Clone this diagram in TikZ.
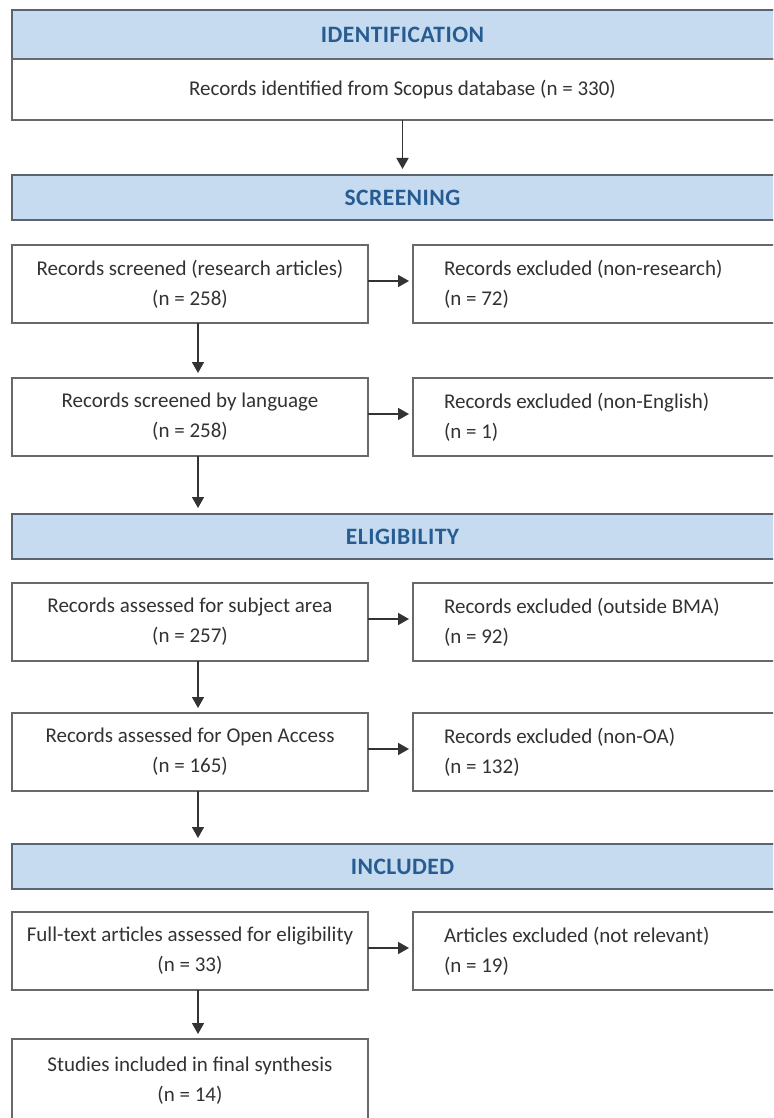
\documentclass[tikz,border=0pt]{standalone}
\usepackage{fontspec}
\setmainfont{Carlito}
\usepackage{tikz}
\usepackage{xcolor}
\usetikzlibrary{arrows.meta, positioning, calc}
\definecolor{cPhase}{RGB}{198,219,239}
\definecolor{cPhaseLine}{RGB}{88,100,112}
\definecolor{cPhaseText}{RGB}{38,92,146}
\definecolor{cBoxLine}{RGB}{105,105,105}
\definecolor{cText}{RGB}{50,50,50}
\tikzset{
    phase/.style   ={rectangle, minimum width=781pt, minimum height=45pt, inner sep=0pt, outer sep=0pt, draw=cPhaseLine, line width=2.2pt, fill=cPhase, text=cPhaseText, font=\fontsize{23.5}{26}\selectfont\bfseries\addfontfeatures{LetterSpace=2}},
    identbox/.style={rectangle, minimum width=781pt, minimum height=61pt, inner sep=0pt, outer sep=0pt, draw=cBoxLine, line width=1.6pt, fill=white, text=cText},
    process/.style ={rectangle, minimum width=356pt, minimum height=78pt, inner sep=0pt, outer sep=0pt, text width=350pt, align=center, draw=cBoxLine, line width=1.6pt, text=cText, execute at begin node={\spaceskip=0pt\xspaceskip=0pt\leftskip=0pt plus 1fil\rightskip=0pt plus 1fil\parfillskip=0pt\relax}},
    excluded/.style={rectangle, minimum width=380pt, minimum height=78pt, inner xsep=31pt, inner ysep=0pt, outer sep=0pt, text width=318pt, align=left, draw=cBoxLine, line width=1.6pt, text=cText, execute at begin node={\spaceskip=0pt\xspaceskip=0pt\rightskip=0pt plus 1fil\relax}},
    flowarrow/.style={-{Triangle[length=11pt, width=12pt]}, line width=1.6pt, draw=black!80},
}

\begin{document}
\begin{tikzpicture}[x=1pt, y=1pt, every node/.style={font=\fontsize{21}{30}\selectfont}]
            \clip (0,0) rectangle (773,-1118);
            % identification
            \node[phase, anchor=north west, minimum height=49pt] (identhd) at (12,-10) {IDENTIFICATION};
            \node[identbox, below=0pt of identhd] (ident) {Records identified from Scopus database (n = 330)};
            % screening
            \node[phase, below=55pt of ident] (screenhd) {SCREENING};
            \node[process, below=25pt of screenhd.south west, anchor=north west] (screen) {Records screened (research articles)\\(n = 258)};
            \node[excluded, right=45pt of screen] (exres) {Records excluded (non-research)\\(n = 72)};
            \node[process, below=55pt of screen] (lang) {Records screened by language\\(n = 258)};
            \node[excluded, right=45pt of lang] (exlang) {Records excluded (non-English)\\(n = 1)};
            % eligibility
            \node[phase, below=58pt of lang.south west, anchor=north west] (eligh) {ELIGIBILITY};
            \node[process, below=24pt of eligh.south west, anchor=north west] (subj) {Records assessed for subject area\\(n = 257)};
            \node[excluded, right=45pt of subj] (exsubj) {Records excluded (outside BMA)\\(n = 92)};
            \node[process, below=52pt of subj] (oa) {Records assessed for Open Access\\(n = 165)};
            \node[excluded, right=45pt of oa] (exoa) {Records excluded (non-OA)\\(n = 132)};
            % included
            \node[phase, below=53pt of oa.south west, anchor=north west] (inclhd) {INCLUDED};
            \node[process, below=23pt of inclhd.south west, anchor=north west] (full) {Full-text articles assessed for eligibility\\(n = 33)};
            \node[excluded, right=45pt of full] (exfull) {Articles excluded (not relevant)\\(n = 19)};
            \node[process, below=49pt of full, minimum height=84pt] (final) {Studies included in final synthesis\\(n = 14)};
            % arrows
            \draw[flowarrow, shorten >=6pt](ident)--(screenhd);
            \draw[flowarrow, shorten >=5pt]([xshift=8pt]screen.south)--([xshift=8pt]lang.north);
            \draw[flowarrow, shorten >=6pt]([xshift=8pt]lang.south)--([xshift=8pt]lang.south |- eligh.north);
            \draw[flowarrow, shorten >=5pt]([xshift=8pt]subj.south)--([xshift=8pt]oa.north);
            \draw[flowarrow, shorten >=6pt]([xshift=8pt]oa.south)--([xshift=8pt]oa.south |- inclhd.north);
            \draw[flowarrow, shorten >=5pt]([xshift=8pt]full.south)--([xshift=8pt]final.north);
            \draw[flowarrow, shorten >=4pt]([yshift=3pt]screen.east)--([yshift=3pt]exres.west);
            \draw[flowarrow, shorten >=4pt]([yshift=3pt]lang.east)--([yshift=3pt]exlang.west);
            \draw[flowarrow, shorten >=4pt]([yshift=3pt]subj.east)--([yshift=3pt]exsubj.west);
            \draw[flowarrow, shorten >=4pt]([yshift=3pt]oa.east)--([yshift=3pt]exoa.west);
            \draw[flowarrow, shorten >=4pt]([yshift=3pt]full.east)--([yshift=3pt]exfull.west);
        \end{tikzpicture}
\end{document}
